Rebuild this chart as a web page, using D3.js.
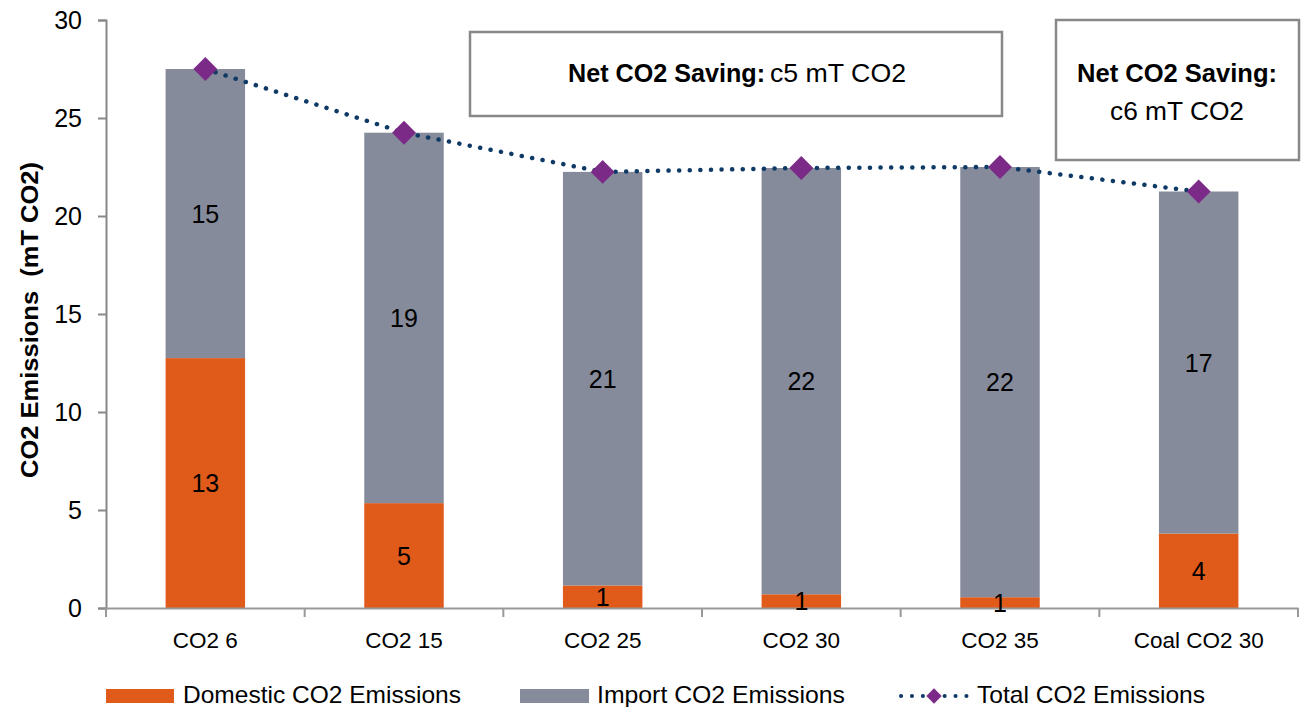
<!DOCTYPE html>
<html>
<head>
<meta charset="utf-8">
<script src="https://cdn.jsdelivr.net/npm/d3@7"></script>
<style>
  body { margin: 0; background: #fff; }
  text { font-family: "Liberation Sans", Arial, sans-serif; }
</style>
</head>
<body>
<script>
var width = 1301;
var height = 707;

// data
var categories = ["CO2 6", "CO2 15", "CO2 25", "CO2 30", "CO2 35", "Coal CO2 30"];
var domestic = [12.75, 5.35, 1.15, 0.7, 0.55, 3.8];
var imports = [14.75, 18.9, 21.1, 21.75, 21.95, 17.45];
var totals = [27.5, 24.25, 22.25, 22.45, 22.5, 21.25];
var yTicks = [0, 5, 10, 15, 20, 25, 30];
var seriesNames = ["Domestic CO2 Emissions", "Import CO2 Emissions", "Total CO2 Emissions"];

var orange = "#e05a1a";
var grey = "#858b9a";
var purple = "#7b2a88";
var navy = "#0f3a66";
var fontFam = "'Liberation Sans', Arial, sans-serif";

var svg = d3.select("body").append("svg")
	.attr("width", width)
	.attr("height", height);

var x = d3.scaleBand()
	.domain(categories)
	.range([106, 1298])
	.paddingInner(0.6)
	.paddingOuter(0.3);

var xEdges = d3.scaleBand()
	.domain(categories)
	.range([106, 1298]);

var y = d3.scaleLinear()
	.domain([0, 30])
	.range([608, 20]);

// y axis
var yAxis = svg.append("g")
	.attr("transform", "translate(106,0)")
	.call(d3.axisLeft(y).tickValues(yTicks).tickSize(8).tickPadding(16));
yAxis.select(".domain").attr("stroke", "#888").attr("stroke-width", 2);
yAxis.selectAll(".tick line").attr("stroke", "#888").attr("stroke-width", 2);
yAxis.selectAll(".tick text").attr("font-size", 25).attr("fill", "#000")
	.style("font-family", fontFam);

// bars
var stackData = categories.map(function(c, i){ return {cat: c, dom: domestic[i], imp: imports[i]}; });

svg.selectAll("rect.dom")
	.data(stackData)
	.enter()
		.append("rect")
		.attr("class", "dom")
		.attr("x", function(d){ return x(d.cat); })
		.attr("width", x.bandwidth())
		.attr("y", function(d){ return y(d.dom); })
		.attr("height", function(d){ return y(0) - y(d.dom); })
		.attr("fill", orange);

svg.selectAll("rect.imp")
	.data(stackData)
	.enter()
		.append("rect")
		.attr("class", "imp")
		.attr("x", function(d){ return x(d.cat); })
		.attr("width", x.bandwidth())
		.attr("y", function(d){ return y(d.dom + d.imp); })
		.attr("height", function(d){ return y(d.dom) - y(d.dom + d.imp); })
		.attr("fill", grey);

// x axis
var xAxis = svg.append("g")
	.attr("transform", "translate(0,608)")
	.call(d3.axisBottom(xEdges).tickSize(0).tickPadding(24));
xAxis.select(".domain").attr("stroke", "#999").attr("stroke-width", 2);
xAxis.selectAll(".tick text").attr("font-size", 22.5).attr("fill", "#000")
	.style("font-family", fontFam);
svg.append("g").selectAll("line")
	.data(categories.concat(["end"]))
	.enter()
		.append("line")
		.attr("x1", function(d, i){ return i < categories.length ? xEdges(d) : xEdges.range()[1]; })
		.attr("x2", function(d, i){ return i < categories.length ? xEdges(d) : xEdges.range()[1]; })
		.attr("y1", 608)
		.attr("y2", 617)
		.attr("stroke", "#999")
		.attr("stroke-width", 2);

// segment labels
svg.selectAll("text.domlab")
	.data(stackData)
	.enter()
		.append("text")
		.attr("class", "domlab")
		.attr("x", function(d){ return x(d.cat) + x.bandwidth() / 2; })
		.attr("y", function(d){ return y(d.dom / 2); })
		.attr("dy", "0.36em")
		.attr("text-anchor", "middle")
		.attr("font-size", 25)
		.text(function(d){ return Math.round(d.dom) < 1 ? 1 : Math.round(d.dom); });

svg.selectAll("text.implab")
	.data(stackData)
	.enter()
		.append("text")
		.attr("class", "implab")
		.attr("x", function(d){ return x(d.cat) + x.bandwidth() / 2; })
		.attr("y", function(d){ return y(d.dom + d.imp / 2); })
		.attr("dy", "0.36em")
		.attr("text-anchor", "middle")
		.attr("font-size", 25)
		.text(function(d){ return Math.round(d.imp); });

// total line
var line = d3.line()
	.x(function(d, i){ return x(categories[i]) + x.bandwidth() / 2; })
	.y(function(d){ return y(d); });

svg.append("path")
	.datum(totals)
	.attr("d", line)
	.attr("fill", "none")
	.attr("stroke", navy)
	.attr("stroke-width", 4.5)
	.attr("stroke-linecap", "round")
	.attr("stroke-dasharray", "0.1 10.5");

var diamond = d3.symbol().type(d3.symbolDiamond2).size(364);
svg.selectAll("path.mark")
	.data(totals)
	.enter()
		.append("path")
		.attr("class", "mark")
		.attr("d", diamond)
		.attr("transform", function(d, i){ return "translate(" + (x(categories[i]) + x.bandwidth() / 2) + "," + y(d) + ")"; })
		.attr("fill", purple);

// y axis title
svg.append("text")
	.attr("transform", "translate(38,320) rotate(-90)")
	.attr("text-anchor", "middle")
	.attr("font-size", 23)
	.attr("font-weight", "bold")
	.attr("textLength", 316)
	.attr("lengthAdjust", "spacingAndGlyphs")
	.attr("xml:space", "preserve")
	.style("white-space", "pre")
	.text("CO2 Emissions  (mT CO2)");

// annotation boxes
svg.append("rect")
	.attr("x", 470).attr("y", 32).attr("width", 532).attr("height", 84)
	.attr("fill", "#fff").attr("stroke", "#888").attr("stroke-width", 2.5);
svg.append("text")
	.attr("x", 568).attr("y", 82)
	.attr("font-size", 25).attr("font-weight", "bold")
	.attr("textLength", 197).attr("lengthAdjust", "spacingAndGlyphs")
	.text("Net CO2 Saving:");
svg.append("text")
	.attr("x", 770).attr("y", 82)
	.attr("font-size", 25)
	.attr("textLength", 136).attr("lengthAdjust", "spacingAndGlyphs")
	.text("c5 mT CO2");

svg.append("rect")
	.attr("x", 1056).attr("y", 20).attr("width", 243).attr("height", 140)
	.attr("fill", "#fff").attr("stroke", "#888").attr("stroke-width", 2.5);
svg.append("text")
	.attr("x", 1077).attr("y", 82)
	.attr("font-size", 25).attr("font-weight", "bold")
	.attr("textLength", 200).attr("lengthAdjust", "spacingAndGlyphs")
	.text("Net CO2 Saving:");
svg.append("text")
	.attr("x", 1110).attr("y", 120)
	.attr("font-size", 25)
	.attr("textLength", 134).attr("lengthAdjust", "spacingAndGlyphs")
	.text("c6 mT CO2");

// legend
var legend = svg.append("g");
legend.append("rect").attr("x", 106).attr("y", 689).attr("width", 68).attr("height", 14).attr("fill", orange);
legend.append("rect").attr("x", 520).attr("y", 689).attr("width", 69).attr("height", 14).attr("fill", grey);
legend.append("line")
	.attr("x1", 901).attr("x2", 967).attr("y1", 696).attr("y2", 696)
	.attr("stroke", navy).attr("stroke-width", 4).attr("stroke-linecap", "round")
	.attr("stroke-dasharray", "0.1 10.8");
legend.append("path").attr("d", d3.symbol().type(d3.symbolDiamond2).size(150))
	.attr("transform", "translate(934,696)").attr("fill", purple);
var legX = [183, 597, 977];
var legW = [278, 248, 228];
legend.selectAll("text")
	.data(seriesNames)
	.enter()
		.append("text")
		.attr("x", function(d, i){ return legX[i]; })
		.attr("y", 703)
		.attr("font-size", 24)
		.attr("textLength", function(d, i){ return legW[i]; })
		.attr("lengthAdjust", "spacingAndGlyphs")
		.text(function(d){ return d; });
</script>
</body>
</html>
